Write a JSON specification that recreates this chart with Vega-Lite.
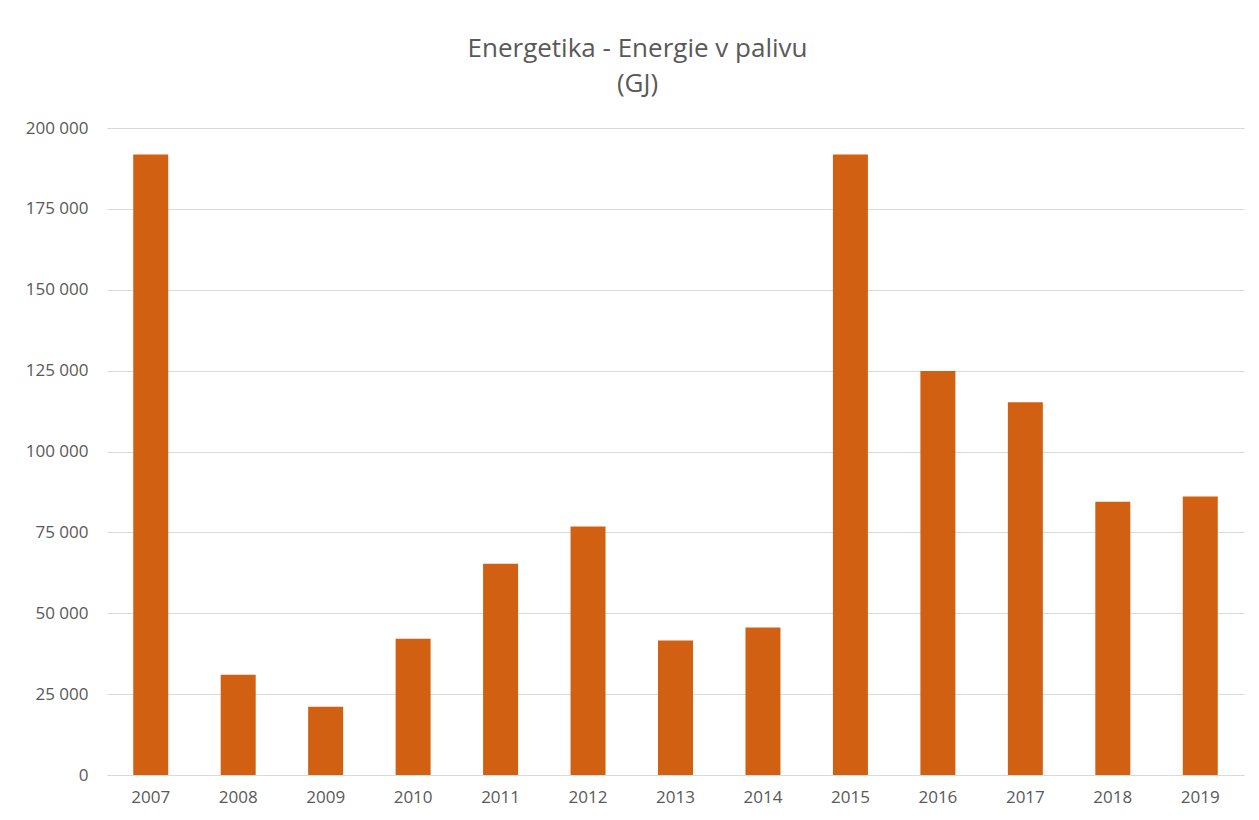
{
  "$schema": "https://vega.github.io/schema/vega-lite/v6.json",
  "autosize": {"type": "none"},
  "width": 1137,
  "height": 647,
  "padding": {"left": 107, "top": 128, "right": 15, "bottom": 45},
  "background": "white",
  "title": {
    "text": ["Energetika - Energie v palivu", "(GJ)"],
    "fontSize": 26,
    "font": "Open Sans",
    "fontWeight": "normal",
    "color": "#595959",
    "lineHeight": 35,
    "offset": 22,
    "dx": -38,
    "anchor": "middle"
  },
  "data": {
    "values": [
      {"rok": "2007", "hodnota": 191800},
      {"rok": "2008", "hodnota": 31000},
      {"rok": "2009", "hodnota": 21100},
      {"rok": "2010", "hodnota": 42100},
      {"rok": "2011", "hodnota": 65300},
      {"rok": "2012", "hodnota": 76800},
      {"rok": "2013", "hodnota": 41600},
      {"rok": "2014", "hodnota": 45600},
      {"rok": "2015", "hodnota": 191800},
      {"rok": "2016", "hodnota": 124900},
      {"rok": "2017", "hodnota": 115200},
      {"rok": "2018", "hodnota": 84500},
      {"rok": "2019", "hodnota": 86100}
    ]
  },
  "mark": {"type": "bar", "color": "#D26012"},
  "encoding": {
    "x": {
      "field": "rok",
      "type": "ordinal",
      "scale": {"paddingInner": 0.6, "paddingOuter": 0.3},
      "axis": {
        "title": null,
        "labelAngle": 0,
        "ticks": false,
        "domain": false,
        "labelPadding": 14,
        "labelFontSize": 17,
        "labelFont": "Open Sans",
        "labelColor": "#595959"
      }
    },
    "y": {
      "field": "hodnota",
      "type": "quantitative",
      "scale": {"domain": [0, 200000], "nice": false},
      "axis": {
        "title": null,
        "values": [0, 25000, 50000, 75000, 100000, 125000, 150000, 175000, 200000],
        "labelExpr": "replace(format(datum.value, ','), ',', ' ')",
        "ticks": false,
        "domain": false,
        "grid": true,
        "gridColor": "#D9D9D9",
        "gridWidth": 1,
        "labelPadding": 19,
        "labelFontSize": 17,
        "labelFont": "Open Sans",
        "labelColor": "#595959"
      }
    }
  },
  "config": {"view": {"stroke": null}}
}
